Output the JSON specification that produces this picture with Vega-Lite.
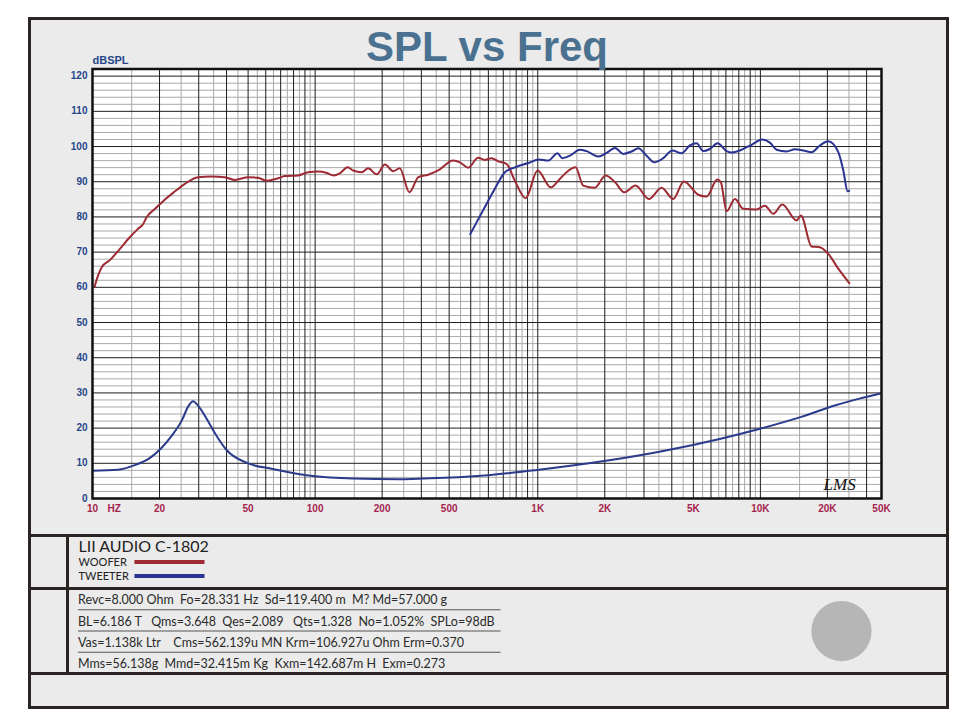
{
  "$schema": "https://vega.github.io/schema/vega-lite/v6.json",
  "background": "white",
  "padding": {"left": 26.5, "top": 16.5, "right": 16.5, "bottom": 12.5},
  "spacing": 0,
  "bounds": "flush",
  "config": {
    "view": {"fill": "#ebebeb", "stroke": "#2a2523", "strokeWidth": 3},
    "font": "Liberation Sans"
  },
  "datasets": {
    "curves": [
      {"series": "Woofer", "freq": 10.2, "level": 60.0},
      {"series": "Woofer", "freq": 10.6, "level": 63.4},
      {"series": "Woofer", "freq": 11.0, "level": 65.7},
      {"series": "Woofer", "freq": 12.0, "level": 67.8},
      {"series": "Woofer", "freq": 13.1, "level": 70.5},
      {"series": "Woofer", "freq": 14.5, "level": 73.8},
      {"series": "Woofer", "freq": 16.0, "level": 76.6},
      {"series": "Woofer", "freq": 16.9, "level": 78.0},
      {"series": "Woofer", "freq": 17.5, "level": 79.9},
      {"series": "Woofer", "freq": 19.1, "level": 82.3},
      {"series": "Woofer", "freq": 21.1, "level": 84.9},
      {"series": "Woofer", "freq": 23.4, "level": 87.2},
      {"series": "Woofer", "freq": 26.0, "level": 89.4},
      {"series": "Woofer", "freq": 29.8, "level": 91.3},
      {"series": "Woofer", "freq": 34.2, "level": 91.5},
      {"series": "Woofer", "freq": 39.3, "level": 91.3},
      {"series": "Woofer", "freq": 43.6, "level": 90.5},
      {"series": "Woofer", "freq": 50.1, "level": 91.3},
      {"series": "Woofer", "freq": 55.5, "level": 91.1},
      {"series": "Woofer", "freq": 60.5, "level": 90.3},
      {"series": "Woofer", "freq": 68.3, "level": 91.0},
      {"series": "Woofer", "freq": 73.1, "level": 91.6},
      {"series": "Woofer", "freq": 84.0, "level": 91.8},
      {"series": "Woofer", "freq": 93.1, "level": 92.7},
      {"series": "Woofer", "freq": 103, "level": 92.9},
      {"series": "Woofer", "freq": 113, "level": 92.5},
      {"series": "Woofer", "freq": 121, "level": 91.8},
      {"series": "Woofer", "freq": 129, "level": 92.4},
      {"series": "Woofer", "freq": 140, "level": 94.1},
      {"series": "Woofer", "freq": 148, "level": 93.2},
      {"series": "Woofer", "freq": 162, "level": 92.7},
      {"series": "Woofer", "freq": 173, "level": 93.8},
      {"series": "Woofer", "freq": 189, "level": 92.1},
      {"series": "Woofer", "freq": 206, "level": 94.9},
      {"series": "Woofer", "freq": 224, "level": 93.0},
      {"series": "Woofer", "freq": 240, "level": 93.8},
      {"series": "Woofer", "freq": 265, "level": 87.0},
      {"series": "Woofer", "freq": 291, "level": 91.3},
      {"series": "Woofer", "freq": 322, "level": 92.0},
      {"series": "Woofer", "freq": 357, "level": 93.2},
      {"series": "Woofer", "freq": 417, "level": 96.0},
      {"series": "Woofer", "freq": 447, "level": 95.5},
      {"series": "Woofer", "freq": 487, "level": 94.0},
      {"series": "Woofer", "freq": 540, "level": 96.8},
      {"series": "Woofer", "freq": 579, "level": 96.2},
      {"series": "Woofer", "freq": 620, "level": 96.7},
      {"series": "Woofer", "freq": 665, "level": 95.8},
      {"series": "Woofer", "freq": 724, "level": 95.1},
      {"series": "Woofer", "freq": 789, "level": 90.3},
      {"series": "Woofer", "freq": 882, "level": 85.3},
      {"series": "Woofer", "freq": 998, "level": 93.2},
      {"series": "Woofer", "freq": 1145, "level": 88.4},
      {"series": "Woofer", "freq": 1236, "level": 90.3},
      {"series": "Woofer", "freq": 1347, "level": 92.7},
      {"series": "Woofer", "freq": 1478, "level": 94.1},
      {"series": "Woofer", "freq": 1601, "level": 88.9},
      {"series": "Woofer", "freq": 1805, "level": 88.3},
      {"series": "Woofer", "freq": 2017, "level": 91.8},
      {"series": "Woofer", "freq": 2221, "level": 89.9},
      {"series": "Woofer", "freq": 2447, "level": 87.0},
      {"series": "Woofer", "freq": 2750, "level": 88.9},
      {"series": "Woofer", "freq": 3156, "level": 85.1},
      {"series": "Woofer", "freq": 3600, "level": 88.3},
      {"series": "Woofer", "freq": 4062, "level": 85.1},
      {"series": "Woofer", "freq": 4532, "level": 90.1},
      {"series": "Woofer", "freq": 5260, "level": 86.3},
      {"series": "Woofer", "freq": 5733, "level": 85.8},
      {"series": "Woofer", "freq": 6404, "level": 90.6},
      {"series": "Woofer", "freq": 6644, "level": 89.9},
      {"series": "Woofer", "freq": 7050, "level": 81.6},
      {"series": "Woofer", "freq": 7683, "level": 85.1},
      {"series": "Woofer", "freq": 8381, "level": 82.3},
      {"series": "Woofer", "freq": 9614, "level": 82.1},
      {"series": "Woofer", "freq": 10476, "level": 83.2},
      {"series": "Woofer", "freq": 11429, "level": 80.9},
      {"series": "Woofer", "freq": 12542, "level": 83.5},
      {"series": "Woofer", "freq": 14547, "level": 79.0},
      {"series": "Woofer", "freq": 15206, "level": 80.4},
      {"series": "Woofer", "freq": 16985, "level": 71.6},
      {"series": "Woofer", "freq": 18510, "level": 71.4},
      {"series": "Woofer", "freq": 20184, "level": 69.5},
      {"series": "Woofer", "freq": 22387, "level": 65.3},
      {"series": "Woofer", "freq": 25240, "level": 61.0},
      {"series": "Tweeter", "freq": 495.5, "level": 74.9},
      {"series": "Tweeter", "freq": 578.6, "level": 82.8},
      {"series": "Tweeter", "freq": 641.7, "level": 88.0},
      {"series": "Tweeter", "freq": 711.7, "level": 92.7},
      {"series": "Tweeter", "freq": 789, "level": 94.1},
      {"series": "Tweeter", "freq": 906.5, "level": 95.3},
      {"series": "Tweeter", "freq": 1011, "level": 96.3},
      {"series": "Tweeter", "freq": 1115, "level": 96.0},
      {"series": "Tweeter", "freq": 1227, "level": 98.1},
      {"series": "Tweeter", "freq": 1288, "level": 96.7},
      {"series": "Tweeter", "freq": 1394, "level": 97.4},
      {"series": "Tweeter", "freq": 1546, "level": 99.1},
      {"series": "Tweeter", "freq": 1657, "level": 98.7},
      {"series": "Tweeter", "freq": 1870, "level": 97.2},
      {"series": "Tweeter", "freq": 2038, "level": 98.2},
      {"series": "Tweeter", "freq": 2221, "level": 99.6},
      {"series": "Tweeter", "freq": 2422, "level": 97.9},
      {"series": "Tweeter", "freq": 2639, "level": 98.6},
      {"series": "Tweeter", "freq": 2829, "level": 99.5},
      {"series": "Tweeter", "freq": 3082, "level": 97.4},
      {"series": "Tweeter", "freq": 3338, "level": 95.5},
      {"series": "Tweeter", "freq": 3663, "level": 96.7},
      {"series": "Tweeter", "freq": 4020, "level": 98.9},
      {"series": "Tweeter", "freq": 4426, "level": 98.1},
      {"series": "Tweeter", "freq": 4824, "level": 100.3},
      {"series": "Tweeter", "freq": 5169, "level": 100.9},
      {"series": "Tweeter", "freq": 5540, "level": 98.7},
      {"series": "Tweeter", "freq": 5931, "level": 99.3},
      {"series": "Tweeter", "freq": 6423, "level": 100.9},
      {"series": "Tweeter", "freq": 7050, "level": 98.7},
      {"series": "Tweeter", "freq": 7424, "level": 98.3},
      {"series": "Tweeter", "freq": 8232, "level": 99.1},
      {"series": "Tweeter", "freq": 9130, "level": 100.5},
      {"series": "Tweeter", "freq": 10197, "level": 102.0},
      {"series": "Tweeter", "freq": 11034, "level": 101.1},
      {"series": "Tweeter", "freq": 11825, "level": 99.1},
      {"series": "Tweeter", "freq": 13115, "level": 98.6},
      {"series": "Tweeter", "freq": 14290, "level": 99.2},
      {"series": "Tweeter", "freq": 15583, "level": 98.9},
      {"series": "Tweeter", "freq": 16985, "level": 98.4},
      {"series": "Tweeter", "freq": 18510, "level": 100.3},
      {"series": "Tweeter", "freq": 20184, "level": 101.5},
      {"series": "Tweeter", "freq": 22387, "level": 98.4},
      {"series": "Tweeter", "freq": 23577, "level": 93.2},
      {"series": "Tweeter", "freq": 24648, "level": 87.3},
      {"series": "Tweeter", "freq": 25240, "level": 87.5},
      {"series": "Impedance", "freq": 10, "level": 7.9},
      {"series": "Impedance", "freq": 13, "level": 8.2},
      {"series": "Impedance", "freq": 15.5, "level": 9.5},
      {"series": "Impedance", "freq": 18, "level": 11.4},
      {"series": "Impedance", "freq": 20.3, "level": 14.2},
      {"series": "Impedance", "freq": 22.8, "level": 18.0},
      {"series": "Impedance", "freq": 25.2, "level": 22.2},
      {"series": "Impedance", "freq": 27.0, "level": 26.3},
      {"series": "Impedance", "freq": 28.3, "level": 27.6},
      {"series": "Impedance", "freq": 29.6, "level": 26.6},
      {"series": "Impedance", "freq": 32.6, "level": 22.6},
      {"series": "Impedance", "freq": 35.6, "level": 18.4},
      {"series": "Impedance", "freq": 40.1, "level": 13.7},
      {"series": "Impedance", "freq": 49.4, "level": 10.1},
      {"series": "Impedance", "freq": 64.5, "level": 8.4},
      {"series": "Impedance", "freq": 97.7, "level": 6.4},
      {"series": "Impedance", "freq": 148, "level": 5.7},
      {"series": "Impedance", "freq": 238, "level": 5.5},
      {"series": "Impedance", "freq": 383, "level": 5.9},
      {"series": "Impedance", "freq": 616, "level": 6.7},
      {"series": "Impedance", "freq": 992, "level": 8.1},
      {"series": "Impedance", "freq": 2023, "level": 10.7},
      {"series": "Impedance", "freq": 3663, "level": 13.5},
      {"series": "Impedance", "freq": 6637, "level": 17.0},
      {"series": "Impedance", "freq": 10062, "level": 19.9},
      {"series": "Impedance", "freq": 15255, "level": 23.2},
      {"series": "Impedance", "freq": 21770, "level": 26.5},
      {"series": "Impedance", "freq": 27610, "level": 28.3},
      {"series": "Impedance", "freq": 35000, "level": 29.9}
    ],
    "vgrid": [
      {"freq": 15, "kind": "minor"}, {"freq": 25, "kind": "minor"}, {"freq": 35, "kind": "minor"}, {"freq": 45, "kind": "minor"},
      {"freq": 55, "kind": "minor"}, {"freq": 65, "kind": "minor"}, {"freq": 75, "kind": "minor"}, {"freq": 85, "kind": "minor"},
      {"freq": 95, "kind": "minor"}, {"freq": 150, "kind": "minor"}, {"freq": 250, "kind": "minor"}, {"freq": 350, "kind": "minor"},
      {"freq": 450, "kind": "minor"}, {"freq": 550, "kind": "minor"}, {"freq": 650, "kind": "minor"}, {"freq": 750, "kind": "minor"},
      {"freq": 850, "kind": "minor"}, {"freq": 950, "kind": "minor"}, {"freq": 1500, "kind": "minor"}, {"freq": 2500, "kind": "minor"},
      {"freq": 3500, "kind": "minor"}, {"freq": 4500, "kind": "minor"}, {"freq": 5500, "kind": "minor"}, {"freq": 6500, "kind": "minor"},
      {"freq": 7500, "kind": "minor"}, {"freq": 8500, "kind": "minor"}, {"freq": 9500, "kind": "minor"}, {"freq": 15000, "kind": "minor"},
      {"freq": 25000, "kind": "minor"},
      {"freq": 20, "kind": "major"}, {"freq": 30, "kind": "major"}, {"freq": 40, "kind": "major"}, {"freq": 50, "kind": "major"},
      {"freq": 60, "kind": "major"}, {"freq": 70, "kind": "major"}, {"freq": 80, "kind": "major"}, {"freq": 90, "kind": "major"},
      {"freq": 100, "kind": "major"}, {"freq": 200, "kind": "major"}, {"freq": 300, "kind": "major"}, {"freq": 400, "kind": "major"},
      {"freq": 500, "kind": "major"}, {"freq": 600, "kind": "major"}, {"freq": 700, "kind": "major"}, {"freq": 800, "kind": "major"},
      {"freq": 900, "kind": "major"}, {"freq": 1000, "kind": "major"}, {"freq": 2000, "kind": "major"}, {"freq": 3000, "kind": "major"},
      {"freq": 4000, "kind": "major"}, {"freq": 5000, "kind": "major"}, {"freq": 6000, "kind": "major"}, {"freq": 7000, "kind": "major"},
      {"freq": 8000, "kind": "major"}, {"freq": 9000, "kind": "major"}, {"freq": 10000, "kind": "major"}, {"freq": 20000, "kind": "major"},
      {"freq": 30000, "kind": "major"}
    ],
    "hgrid": [
      {"level": 2, "kind": "minor"}, {"level": 4, "kind": "minor"}, {"level": 6, "kind": "minor"}, {"level": 8, "kind": "minor"},
      {"level": 12, "kind": "minor"}, {"level": 14, "kind": "minor"}, {"level": 16, "kind": "minor"}, {"level": 18, "kind": "minor"},
      {"level": 22, "kind": "minor"}, {"level": 24, "kind": "minor"}, {"level": 26, "kind": "minor"}, {"level": 28, "kind": "minor"},
      {"level": 32, "kind": "minor"}, {"level": 34, "kind": "minor"}, {"level": 36, "kind": "minor"}, {"level": 38, "kind": "minor"},
      {"level": 42, "kind": "minor"}, {"level": 44, "kind": "minor"}, {"level": 46, "kind": "minor"}, {"level": 48, "kind": "minor"},
      {"level": 52, "kind": "minor"}, {"level": 54, "kind": "minor"}, {"level": 56, "kind": "minor"}, {"level": 58, "kind": "minor"},
      {"level": 62, "kind": "minor"}, {"level": 64, "kind": "minor"}, {"level": 66, "kind": "minor"}, {"level": 68, "kind": "minor"},
      {"level": 72, "kind": "minor"}, {"level": 74, "kind": "minor"}, {"level": 76, "kind": "minor"}, {"level": 78, "kind": "minor"},
      {"level": 82, "kind": "minor"}, {"level": 84, "kind": "minor"}, {"level": 86, "kind": "minor"}, {"level": 88, "kind": "minor"},
      {"level": 92, "kind": "minor"}, {"level": 94, "kind": "minor"}, {"level": 96, "kind": "minor"}, {"level": 98, "kind": "minor"},
      {"level": 102, "kind": "minor"}, {"level": 104, "kind": "minor"}, {"level": 106, "kind": "minor"}, {"level": 108, "kind": "minor"},
      {"level": 112, "kind": "minor"}, {"level": 114, "kind": "minor"}, {"level": 116, "kind": "minor"}, {"level": 118, "kind": "minor"},
      {"level": 10, "kind": "major"}, {"level": 20, "kind": "major"}, {"level": 30, "kind": "major"}, {"level": 40, "kind": "major"},
      {"level": 50, "kind": "major"}, {"level": 60, "kind": "major"}, {"level": 70, "kind": "major"}, {"level": 80, "kind": "major"},
      {"level": 90, "kind": "major"}, {"level": 100, "kind": "major"}, {"level": 110, "kind": "major"}, {"level": 120, "kind": "major"}
    ],
    "xticks": [
      {"freq": 10, "label": "10"}, {"freq": 20, "label": "20"}, {"freq": 50, "label": "50"}, {"freq": 100, "label": "100"},
      {"freq": 200, "label": "200"}, {"freq": 400, "label": "500"}, {"freq": 1000, "label": "1K"}, {"freq": 2000, "label": "2K"},
      {"freq": 5000, "label": "5K"}, {"freq": 10000, "label": "10K"}, {"freq": 20000, "label": "20K"}, {"freq": 35000, "label": "50K"}
    ],
    "yticks": [
      {"level": 0}, {"level": 10}, {"level": 20}, {"level": 30}, {"level": 40}, {"level": 50}, {"level": 60},
      {"level": 70}, {"level": 80}, {"level": 90}, {"level": 100}, {"level": 110}, {"level": 120}
    ]
  },
  "vconcat": [
    {
      "width": 918,
      "height": 517,
      "layer": [
        {
          "data": {"values": [{}]},
          "mark": {"type": "rect", "fill": "white"},
          "encoding": {
            "x": {"datum": 10, "type": "quantitative", "scale": {"type": "log", "domain": [10, 35000], "range": [63, 852], "nice": false}, "axis": null},
            "x2": {"datum": 35000},
            "y": {"datum": 0, "type": "quantitative", "scale": {"type": "linear", "domain": [0, 122], "range": [480, 50.6], "nice": false, "zero": false}, "axis": null},
            "y2": {"datum": 122}
          }
        },
        {
          "data": {"name": "vgrid"},
          "transform": [{"filter": "datum.kind == 'minor'"}],
          "mark": {"type": "rule", "color": "#a9a9a9", "strokeWidth": 1},
          "encoding": {
            "x": {"field": "freq", "type": "quantitative", "axis": null},
            "y": {"datum": 0, "type": "quantitative", "axis": null},
            "y2": {"datum": 122}
          }
        },
        {
          "data": {"name": "hgrid"},
          "transform": [{"filter": "datum.kind == 'minor'"}],
          "mark": {"type": "rule", "color": "#a9a9a9", "strokeWidth": 1},
          "encoding": {
            "y": {"field": "level", "type": "quantitative", "axis": null},
            "x": {"datum": 10, "type": "quantitative", "axis": null},
            "x2": {"datum": 35000}
          }
        },
        {
          "data": {"name": "vgrid"},
          "transform": [{"filter": "datum.kind == 'major'"}],
          "mark": {"type": "rule", "color": "#1e1e1e", "strokeWidth": 1},
          "encoding": {
            "x": {"field": "freq", "type": "quantitative", "axis": null},
            "y": {"datum": 0, "type": "quantitative", "axis": null},
            "y2": {"datum": 122}
          }
        },
        {
          "data": {"name": "hgrid"},
          "transform": [{"filter": "datum.kind == 'major'"}],
          "mark": {"type": "rule", "color": "#1e1e1e", "strokeWidth": 1},
          "encoding": {
            "y": {"field": "level", "type": "quantitative", "axis": null},
            "x": {"datum": 10, "type": "quantitative", "axis": null},
            "x2": {"datum": 35000}
          }
        },
        {
          "data": {"name": "curves"},
          "mark": {"type": "line", "strokeWidth": 2, "interpolate": "monotone"},
          "encoding": {
            "x": {"field": "freq", "type": "quantitative", "axis": null},
            "y": {"field": "level", "type": "quantitative", "axis": null},
            "color": {
              "field": "series",
              "type": "nominal",
              "scale": {"domain": ["Woofer", "Tweeter", "Impedance"], "range": ["#9e2a33", "#2a3391", "#2b3b8c"]},
              "legend": null
            }
          }
        },
        {
          "data": {"values": [{}]},
          "mark": {"type": "rect", "filled": false, "stroke": "#111111", "strokeWidth": 2.5},
          "encoding": {
            "x": {"datum": 10, "type": "quantitative", "axis": null},
            "x2": {"datum": 35000},
            "y": {"datum": 0, "type": "quantitative", "axis": null},
            "y2": {"datum": 122}
          }
        },
        {
          "data": {"name": "xticks"},
          "mark": {"type": "text", "font": "Liberation Sans", "fontWeight": "bold", "fontSize": 10, "align": "center", "baseline": "top", "dy": 5, "color": "#a5244e"},
          "encoding": {
            "x": {"field": "freq", "type": "quantitative", "axis": null},
            "y": {"datum": 0, "type": "quantitative", "axis": null},
            "text": {"field": "label"}
          }
        },
        {
          "data": {"values": [{}]},
          "mark": {"type": "text", "text": "HZ", "font": "Liberation Sans", "fontWeight": "bold", "fontSize": 10, "align": "left", "baseline": "top", "dx": 15, "dy": 5, "color": "#a5244e"},
          "encoding": {
            "x": {"datum": 10, "type": "quantitative", "axis": null},
            "y": {"datum": 0, "type": "quantitative", "axis": null}
          }
        },
        {
          "data": {"name": "yticks"},
          "mark": {"type": "text", "font": "Liberation Sans", "fontWeight": "bold", "fontSize": 10, "align": "right", "baseline": "middle", "dx": -5, "color": "#25478a"},
          "encoding": {
            "x": {"datum": 10, "type": "quantitative", "axis": null},
            "y": {"field": "level", "type": "quantitative", "axis": null},
            "text": {"field": "level", "type": "quantitative"}
          }
        },
        {
          "data": {"values": [{}]},
          "mark": {"type": "text", "text": "LMS", "font": "Liberation Serif", "fontStyle": "italic", "fontSize": 17, "align": "center", "baseline": "middle", "color": "#111111"},
          "encoding": {
            "x": {"datum": 22700, "type": "quantitative", "axis": null},
            "y": {"datum": 3.7, "type": "quantitative", "axis": null}
          }
        },
        {
          "data": {"values": [{}]},
          "mark": {"type": "text", "text": "dBSPL", "font": "Liberation Sans", "fontWeight": "bold", "fontSize": 11, "align": "left", "baseline": "alphabetic", "dy": -5, "color": "#25478a"},
          "encoding": {
            "x": {"datum": 10, "type": "quantitative", "axis": null},
            "y": {"datum": 122, "type": "quantitative", "axis": null}
          }
        },
        {
          "data": {"values": [{}]},
          "mark": {"type": "text", "text": "SPL vs Freq", "font": "Liberation Sans", "fontWeight": "bold", "fontSize": 42, "align": "center", "baseline": "alphabetic", "dy": -8, "color": "#4b7191"},
          "encoding": {
            "x": {"datum": 591.6, "type": "quantitative", "axis": null},
            "y": {"datum": 122, "type": "quantitative", "axis": null}
          }
        }
      ]
    },
    {
      "width": 918,
      "height": 172,
      "resolve": {"scale": {"x": "independent", "y": "independent"}},
      "layer": [
        {
          "data": {"values": [{}]},
          "mark": {"type": "rule", "color": "#2a2523", "strokeWidth": 3},
          "encoding": {
            "x": {"datum": 0, "type": "quantitative", "scale": {"type": "linear", "domain": [0, 1], "range": [38, 918], "nice": false, "zero": false}, "axis": null},
            "y": {"datum": 0, "type": "quantitative", "scale": {"type": "linear", "domain": [0, 1], "range": [0, 138], "nice": false, "zero": false}, "axis": null},
            "y2": {"datum": 1}
          }
        },
        {
          "layer": [
            {
              "data": {"values": [{"row": "name", "text": "LII AUDIO C-1802"}]},
              "mark": {"type": "text", "align": "left", "baseline": "alphabetic", "font": "Lato", "fontSize": 16, "color": "#222222"},
              "encoding": {
                "x": {"datum": 0, "type": "quantitative", "scale": {"type": "linear", "domain": [0, 1], "range": [49, 175], "nice": false, "zero": false}, "axis": null},
                "y": {"field": "row", "type": "nominal", "scale": {"type": "point", "domain": ["name", "woofer", "tweeter"], "range": [16, 44], "padding": 0}, "axis": null},
                "text": {"field": "text"}
              }
            },
            {
              "data": {"values": [{"row": "woofer", "text": "WOOFER", "series": "Woofer"}, {"row": "tweeter", "text": "TWEETER", "series": "Tweeter"}]},
              "layer": [
                {
                  "mark": {"type": "text", "align": "left", "baseline": "alphabetic", "font": "Lato", "fontSize": 11, "color": "#222222"},
                  "encoding": {
                    "x": {"datum": 0, "type": "quantitative", "axis": null},
                    "y": {"field": "row", "type": "nominal", "axis": null},
                    "text": {"field": "text"}
                  }
                },
                {
                  "mark": {"type": "rule", "strokeWidth": 4, "yOffset": -3.5},
                  "encoding": {
                    "x": {"datum": 0.444, "type": "quantitative", "axis": null},
                    "x2": {"datum": 1},
                    "y": {"field": "row", "type": "nominal", "axis": null},
                    "color": {"field": "series", "type": "nominal", "scale": {"domain": ["Woofer", "Tweeter"], "range": ["#a3282f", "#2a389a"]}, "legend": null}
                  }
                }
              ]
            }
          ]
        },
        {
          "layer": [
            {
              "data": {"values": [{"row": "p1", "edge": 0}, {"row": "p4", "edge": 1}]},
              "mark": {"type": "rule", "color": "#2a2523", "strokeWidth": 3},
              "transform": [{"filter": "datum.row == 'p1'"}],
              "encoding": {
                "y": {"field": "row", "type": "nominal", "bandPosition": 0, "scale": {"type": "band", "domain": ["p1", "p2", "p3", "p4"], "range": [53, 138], "paddingInner": 0, "paddingOuter": 0}, "axis": null}
              }
            },
            {
              "data": {"values": [{"row": "p4"}]},
              "mark": {"type": "rule", "color": "#2a2523", "strokeWidth": 3},
              "encoding": {
                "y": {"field": "row", "type": "nominal", "bandPosition": 1, "axis": null}
              }
            },
            {
              "data": {"values": [
                {"row": "p1", "text": "Revc=8.000 Ohm\u00a0 Fo=28.331 Hz\u00a0 Sd=119.400 m\u00a0 M? Md=57.000 g"},
                {"row": "p2", "text": "BL=6.186 T\u00a0\u00a0 Qms=3.648\u00a0 Qes=2.089\u00a0\u00a0 Qts=1.328\u00a0 No=1.052%\u00a0 SPLo=98dB"},
                {"row": "p3", "text": "Vas=1.138k Ltr\u00a0\u00a0\u00a0 Cms=562.139u MN Krm=106.927u Ohm Erm=0.370"},
                {"row": "p4", "text": "Mms=56.138g\u00a0 Mmd=32.415m Kg\u00a0 Kxm=142.687m H\u00a0 Exm=0.273"}
              ]},
              "mark": {"type": "text", "align": "left", "baseline": "alphabetic", "font": "Lato", "fontSize": 12.5, "color": "#2a2a2a"},
              "encoding": {
                "x": {"datum": 0, "type": "quantitative", "scale": {"type": "linear", "domain": [0, 1], "range": [48.5, 471], "nice": false, "zero": false}, "axis": null},
                "y": {"field": "row", "type": "nominal", "bandPosition": 0.75, "axis": null},
                "text": {"field": "text"}
              }
            },
            {
              "data": {"values": [{"row": "p1"}, {"row": "p2"}, {"row": "p3"}]},
              "mark": {"type": "rule", "color": "#555555", "strokeWidth": 1},
              "encoding": {
                "x": {"datum": 0, "type": "quantitative", "axis": null},
                "x2": {"datum": 1},
                "y": {"field": "row", "type": "nominal", "bandPosition": 1, "axis": null}
              }
            },
            {
              "data": {"values": [{"row": "p3"}]},
              "mark": {"type": "point", "filled": true, "color": "#b6b6b6", "opacity": 1, "size": 3630},
              "encoding": {
                "x": {"datum": 1.807, "type": "quantitative", "axis": null},
                "y": {"field": "row", "type": "nominal", "bandPosition": 0, "axis": null}
              }
            }
          ]
        }
      ]
    }
  ]
}
